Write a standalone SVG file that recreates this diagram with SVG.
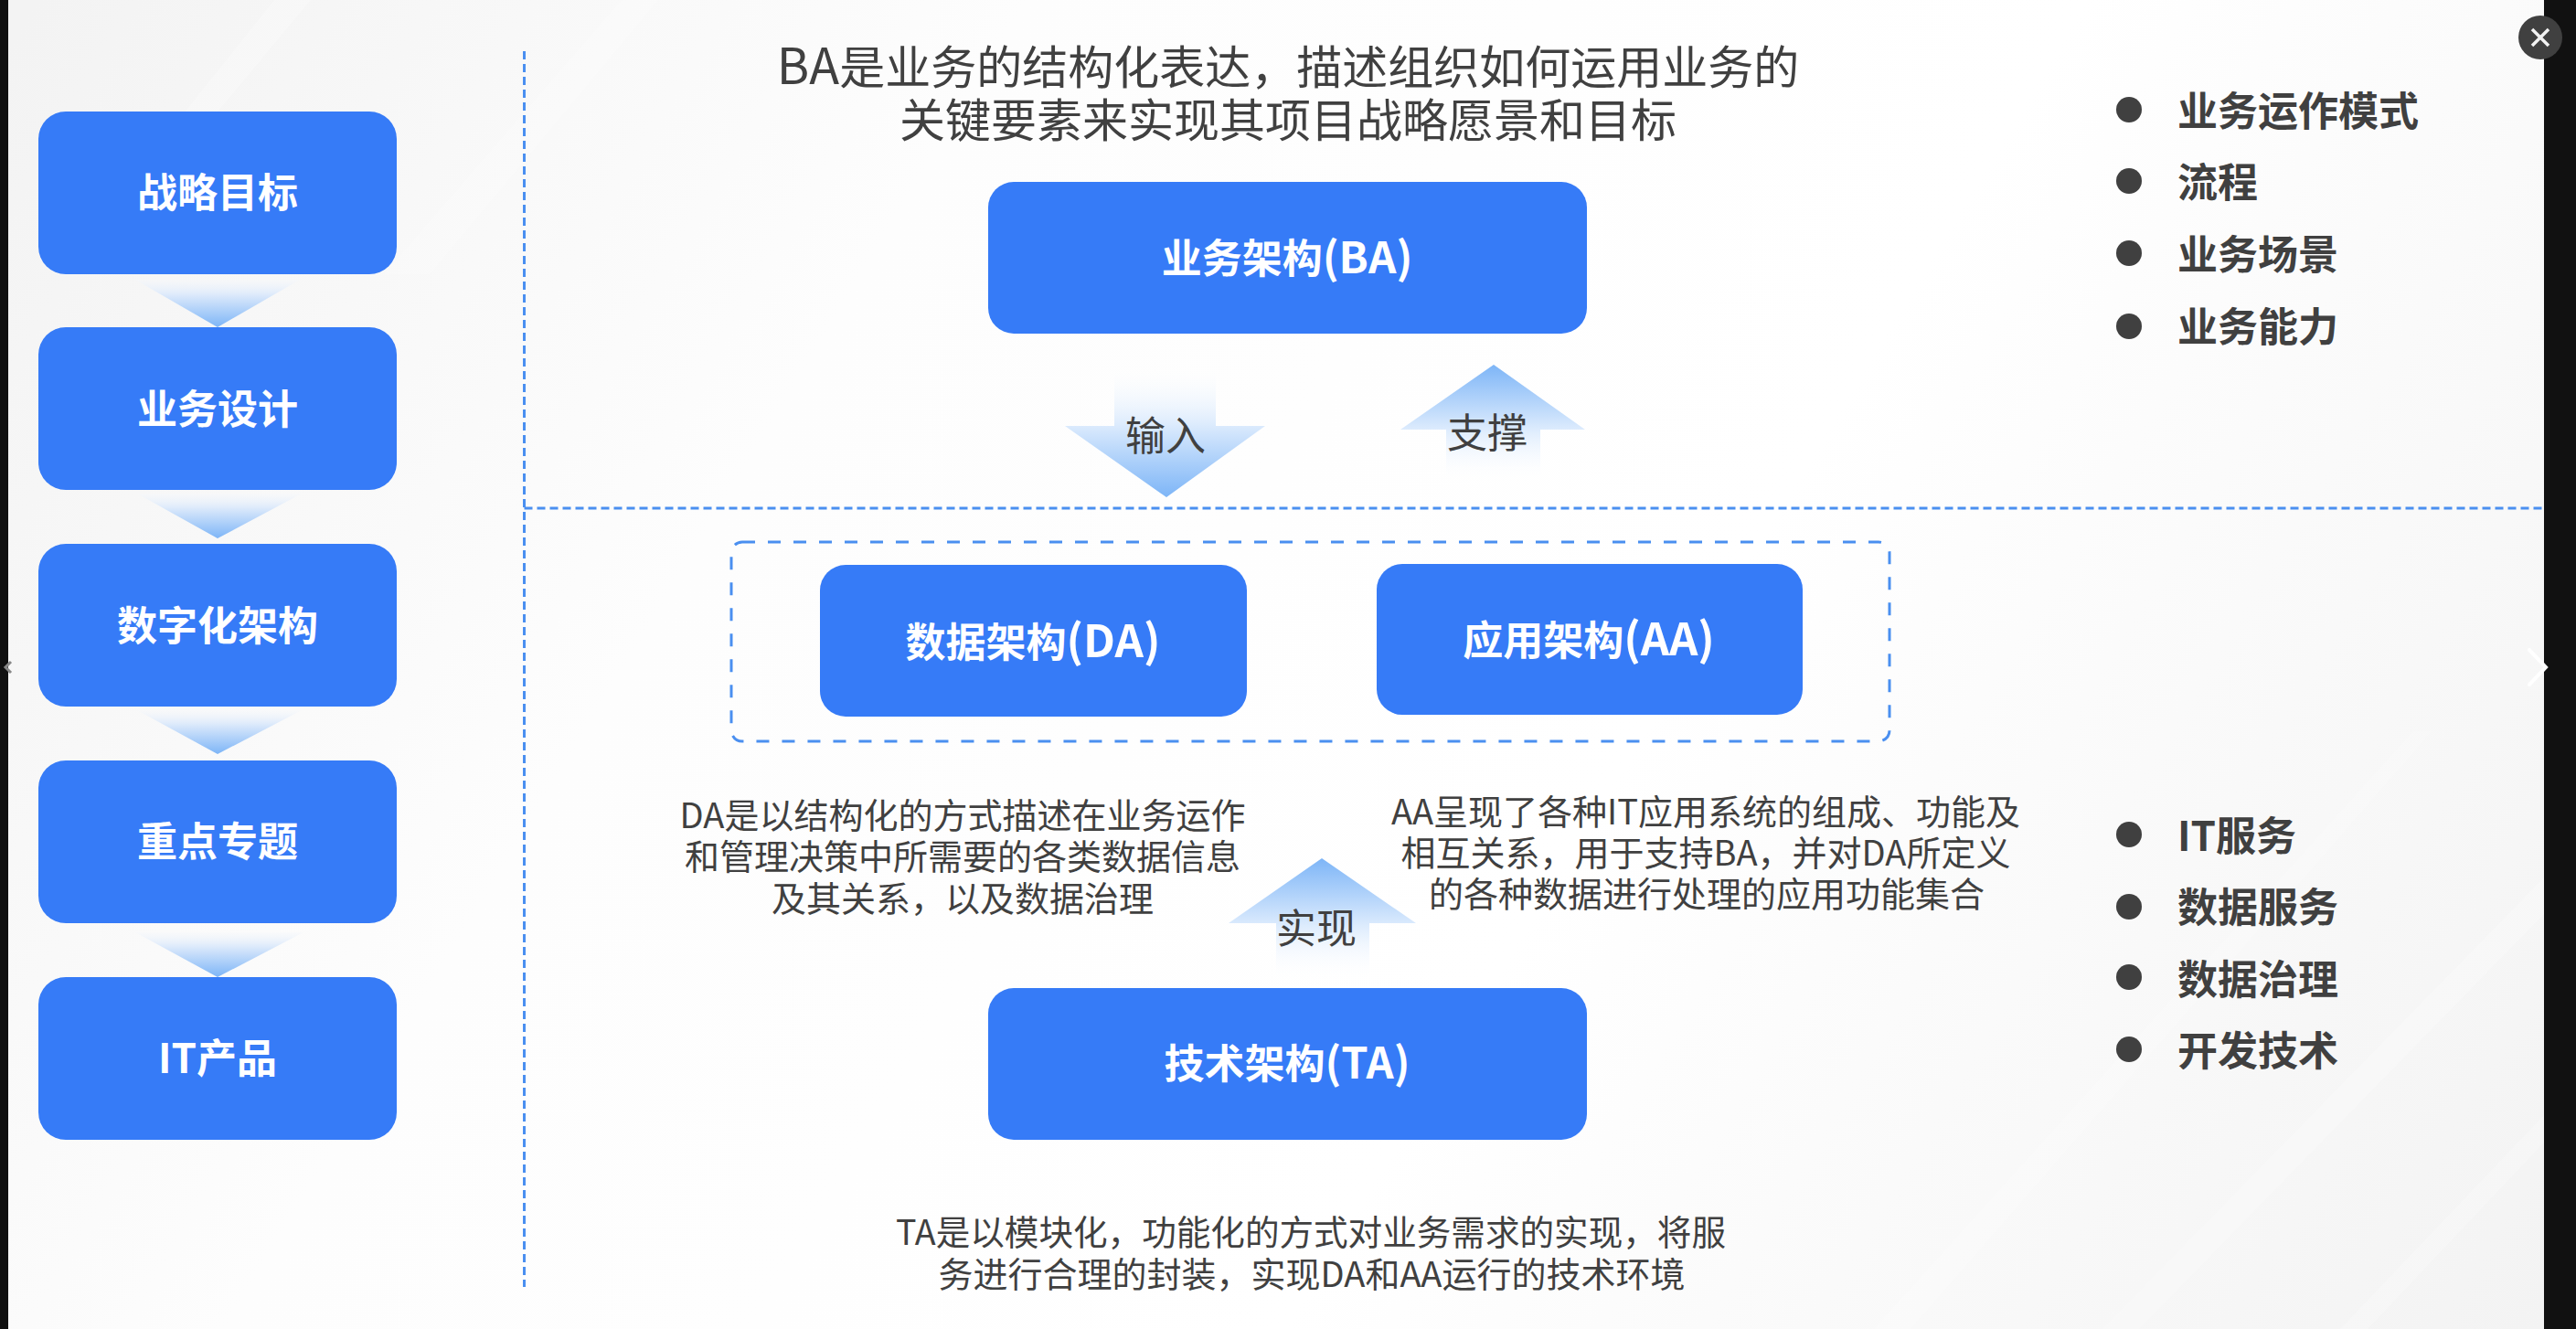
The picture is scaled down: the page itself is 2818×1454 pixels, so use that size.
<svg xmlns="http://www.w3.org/2000/svg" width="2818" height="1454" viewBox="0 0 2818 1454">
<defs>
<linearGradient id="bg" gradientUnits="userSpaceOnUse" x1="100" y1="-100" x2="2750" y2="1500"><stop offset="0" stop-color="#f3f3f3"/><stop offset="0.3" stop-color="#fdfdfd"/><stop offset="0.62" stop-color="#ffffff"/><stop offset="1" stop-color="#f3f3f3"/></linearGradient>
<linearGradient id="down" x1="0" y1="0" x2="0" y2="1"><stop offset="0" stop-color="#ffffff" stop-opacity="0"/><stop offset="0.45" stop-color="#dcebfd"/><stop offset="1" stop-color="#7db5f7"/></linearGradient>
<linearGradient id="small" x1="0" y1="0" x2="0" y2="1"><stop offset="0" stop-color="#f6f8fb" stop-opacity="0.4"/><stop offset="0.3" stop-color="#dfebfb"/><stop offset="1" stop-color="#7db5f7"/></linearGradient>
<linearGradient id="up" x1="0" y1="1" x2="0" y2="0"><stop offset="0" stop-color="#ffffff" stop-opacity="0"/><stop offset="0.45" stop-color="#dcebfd"/><stop offset="1" stop-color="#7db5f7"/></linearGradient>
</defs>
<style>
text{font-family:"Noto Sans CJK SC","Noto Sans",sans-serif;text-anchor:middle}
.box{fill:#367bf7}
.lb{fill:#fff;font-weight:700;font-size:44px}
.t50{fill:#404040;font-size:50px}
.t38{fill:#404040;font-size:38px}
.t376{fill:#404040;font-size:37.600px}
.t44{fill:#404040;font-size:44px}
.li{fill:#404040;font-weight:700;font-size:44px;text-anchor:start}
.dot{fill:#404040}
.dash{fill:none;stroke:#4a8ff0;stroke-width:3;stroke-dasharray:9 5}
.dash2{fill:none;stroke:#4a8ff0;stroke-width:3;stroke-dasharray:14 14}
</style>
<rect id="background" width="2818" height="1454" fill="url(#bg)"/>
<g id="streaks" fill="#ffffff" opacity="0.22">
<polygon points="60,300 300,0 340,0 90,300"/>
<polygon points="420,300 680,0 720,0 470,300"/>
<polygon points="2050,1454 2640,800 2660,800 2090,1454"/>
<polygon points="2300,1454 2783,960 2783,1000 2340,1454"/>
<polygon points="2560,1454 2783,1220 2783,1250 2590,1454"/>
</g>
<g id="frame">
<rect x="0" y="0" width="9" height="1454" fill="#111"/>
<rect x="2783" y="0" width="35" height="1454" fill="#111"/>
</g>
<g id="dividers">
<path class="dash" d="M573.500 56V1408"/>
<path class="dash" d="M573.500 556H2783"/>
</g>
<g id="connectors">
<polygon fill="url(#small)" points="148,306 328,306 238,358"/>
<polygon fill="url(#small)" points="150,540 330,540 238,589"/>
<polygon fill="url(#small)" points="150,777 330,777 238,825"/>
<polygon fill="url(#small)" points="148,1020 332,1020 238,1069"/>
<polygon fill="url(#down)" points="1219,400 1330,400 1330,466 1384,466 1276,544 1165,466 1219,466"/>
<polygon fill="url(#up)" points="1634,399 1734,470 1685,470 1685,527 1582,527 1582,470 1532,470"/>
<polygon fill="url(#up)" points="1446,939 1549,1010 1498,1010 1498,1072 1396,1072 1396,1010 1344,1010"/>
<text class="t44" x="1275" y="493">输入</text>
<text class="t44" x="1627" y="490">支撑</text>
<text class="t44" x="1440" y="1032">实现</text>
</g>
<g id="n-strategy"><rect class="box" x="42" y="122" width="392" height="178" rx="30"/><text class="lb" x="238" y="227">战略目标</text></g>
<g id="n-design"><rect class="box" x="42" y="358" width="392" height="178" rx="30"/><text class="lb" x="238" y="464">业务设计</text></g>
<g id="n-digital"><rect class="box" x="42" y="595" width="392" height="178" rx="30"/><text class="lb" x="238" y="701">数字化架构</text></g>
<g id="n-topic"><rect class="box" x="42" y="832" width="392" height="178" rx="30"/><text class="lb" x="238" y="937">重点专题</text></g>
<g id="n-product"><rect class="box" x="42" y="1069" width="392" height="178" rx="30"/><text class="lb" x="238" y="1174">IT产品</text></g>
<g id="header"><text class="t50" x="1409" y="92"><tspan font-size="54">BA</tspan>是业务的结构化表达，描述组织如何运用业务的</text><text class="t50" x="1409" y="150">关键要素来实现其项目战略愿景和目标</text></g>
<g id="n-ba"><rect class="box" x="1081" y="199" width="655" height="166" rx="28"/><text class="lb" x="1408" y="299">业务架构<tspan font-size="47.500">(BA)</tspan></text></g>
<g id="group-da-aa"><rect class="dash2" x="800" y="593" width="1267" height="218" rx="12"/></g>
<g id="n-da"><rect class="box" x="897" y="618" width="467" height="166" rx="28"/><text class="lb" x="1130" y="719">数据架构<tspan font-size="49">(DA)</tspan></text></g>
<g id="n-aa"><rect class="box" x="1506" y="617" width="466" height="165" rx="28"/><text class="lb" x="1738" y="717">应用架构<tspan font-size="49">(AA)</tspan></text></g>
<g id="n-ta"><rect class="box" x="1081" y="1081" width="655" height="166" rx="28"/><text class="lb" x="1408" y="1180">技术架构<tspan font-size="47">(TA)</tspan></text></g>
<g id="desc-da"><text class="t38" x="1053" y="906">DA是以结构化的方式描述在业务运作</text><text class="t38" x="1053" y="951">和管理决策中所需要的各类数据信息</text><text class="t38" x="1053" y="997">及其关系，以及数据治理</text></g>
<g id="desc-aa"><text class="t38" x="1866" y="902">AA呈现了各种IT应用系统的组成、功能及</text><text class="t38" x="1866" y="947">相互关系，用于支持BA，并对DA所定义</text><text class="t38" x="1867" y="992">的各种数据进行处理的应用功能集合</text></g>
<g id="desc-ta"><text class="t376" x="1434" y="1362">TA是以模块化，功能化的方式对业务需求的实现，将服</text><text class="t38" x="1435" y="1408">务进行合理的封装，实现DA和AA运行的技术环境</text></g>
<g id="list-top">
<circle class="dot" cx="2329" cy="120" r="14"/><text class="li" x="2382" y="138">业务运作模式</text>
<circle class="dot" cx="2329" cy="198" r="14"/><text class="li" x="2382" y="216">流程</text>
<circle class="dot" cx="2329" cy="277" r="14"/><text class="li" x="2382" y="295">业务场景</text>
<circle class="dot" cx="2329" cy="357" r="14"/><text class="li" x="2382" y="374">业务能力</text>
</g>
<g id="list-bottom">
<circle class="dot" cx="2329" cy="913" r="14"/><text class="li" x="2382" y="931">IT服务</text>
<circle class="dot" cx="2329" cy="992" r="14"/><text class="li" x="2382" y="1009">数据服务</text>
<circle class="dot" cx="2329" cy="1069" r="14"/><text class="li" x="2382" y="1088">数据治理</text>
<circle class="dot" cx="2329" cy="1148" r="14"/><text class="li" x="2382" y="1166">开发技术</text>
</g>
<g id="viewer-controls">
<circle cx="2779" cy="41" r="24" fill="#404040"/>
<path d="M2770 32L2788 50M2788 32L2770 50" stroke="#f2f2f2" stroke-width="3.500" fill="none"/>
<path d="M2767 711L2785 730L2767 749" stroke="#ffffff" stroke-width="4" fill="none" stroke-linecap="round"/>
<path d="M12 724L6 730L12 736" stroke="#888" stroke-width="3" fill="none"/>
</g>
</svg>
